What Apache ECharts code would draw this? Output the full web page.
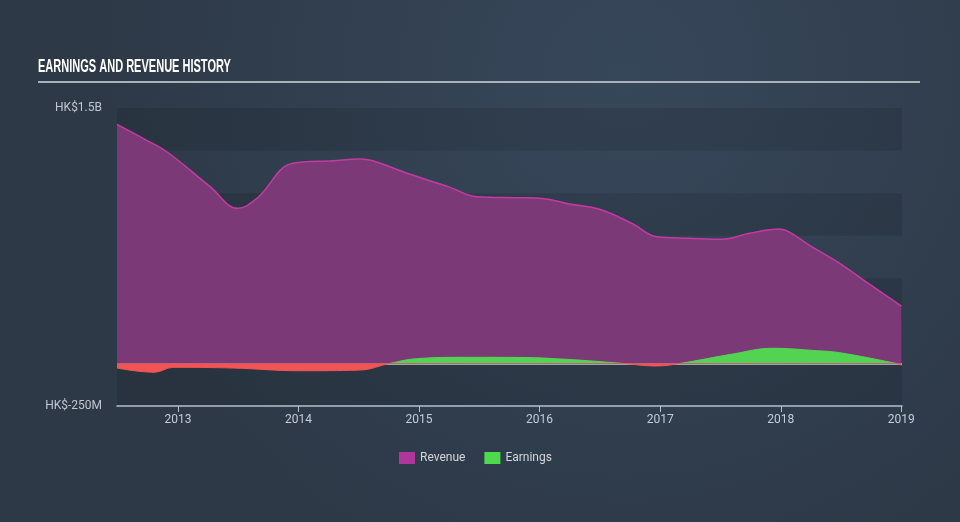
<!DOCTYPE html>
<html>
<head>
<meta charset="utf-8">
<script src="https://cdn.jsdelivr.net/npm/echarts@6/dist/echarts.min.js"></script>
<style>html,body{margin:0;padding:0;background:#334252;}#c{width:960px;height:522px;}</style>
</head>
<body>
<div id="c"></div>
<script>
// Values in millions HK$
const revenueDates = ['2012-06-30','2012-09-17','2012-11-28','2013-04-08','2013-07-01','2013-08-28','2013-12-15','2014-04-15','2014-07-05','2014-08-14','2014-12-03','2015-04-05','2015-06-25','2015-11-01','2016-01-10','2016-04-01','2016-07-01','2016-10-10','2016-12-20','2017-03-30','2017-07-08','2017-09-27','2017-12-28','2018-01-26','2018-03-28','2018-07-06','2018-10-04','2019-01-01'];
const revenueValues = [1404,1322,1243,1038,911,970,1175,1190,1200,1190,1112,1034,979,973,969,936,905,819,744,735,729,764,789,773,695,578,455,337];
const earningsDates = ['2012-06-30','2012-10-21','2012-12-17','2013-06-16','2014-01-05','2014-07-05','2014-10-04','2014-12-25','2015-05-26','2015-11-01','2016-03-24','2016-09-10','2016-12-20','2017-03-01','2017-08-08','2017-12-06','2018-04-19','2018-06-28','2018-12-16','2019-01-01'];
const earningsValues = [-27,-52,-23,-27,-43,-39,0,28,36,35,24,0,-15,0,55,89,75,63,0,-10];
const yMin = -250, yMax = 1500, yStep = 250;
const yTopLabel = 'HK$1.5B', yBottomLabel = 'HK$-250M';
const titleText = 'EARNINGS AND REVENUE HISTORY';

const revenueData = revenueDates.map((d,i)=>[d, revenueValues[i]]);
const earningsData = earningsDates.map((d,i)=>[d, earningsValues[i]]);
const YEAR = 365*24*3600*1000;

const chart = echarts.init(document.getElementById('c'));
chart.setOption({
  backgroundColor: {
    type: 'radial', x: 0.65, y: 0.15, r: 1.0,
    colorStops: [{offset:0, color:'#37475a'},{offset:1, color:'#2d3947'}]
  },
  animation: false,
  graphic: [
    {type:'text', left: 38, top: 57, scaleX: 0.58,
     style:{text: titleText, fill:'#ffffff', font:'bold 19px "Liberation Sans", Arial, sans-serif'}},
    {type:'line', shape:{x1:38, y1:82, x2:920, y2:82}, style:{stroke:'#a9b1b9', lineWidth:2}}
  ],
  grid: {left:117, right:58, top:108, bottom:116},
  legend: {
    left: 394, top: 447, itemWidth: 16, itemHeight: 12, itemGap: 19, icon: 'rect',
    textStyle: {color:'#d2d6da', fontSize: 12, fontFamily: 'Roboto'},
    data: [{name:'Revenue', itemStyle:{color:'#b0369c'}}, {name:'Earnings', itemStyle:{color:'#4ddb4d'}}]
  },
  visualMap: {
    type:'piecewise', show:false, seriesIndex:1, dimension:1,
    pieces:[{gt:-1000, lte:0, color:'#f05454'},{gt:0, lte:2000, color:'#52d452'}]
  },
  xAxis: {
    type:'time', min:'2012-06-30', max:'2019-01-03',
    minInterval: YEAR, maxInterval: YEAR + 2*24*3600*1000,
    axisLine:{show:true, onZero:false, lineStyle:{color:'#b4c0cc', width:1.5}},
    axisTick:{show:true, length:6, lineStyle:{color:'#b4c0cc'}},
    axisLabel:{color:'#c6ccd4', fontSize:12, fontFamily:'Roboto', formatter:'{yyyy}', margin:8},
    splitLine:{show:false}
  },
  yAxis: {
    type:'value', min:yMin, max:yMax, interval:yStep,
    axisLine:{show:false}, axisTick:{show:false}, splitLine:{show:false},
    splitArea:{show:true, areaStyle:{color:['rgba(0,0,0,0.1)','rgba(0,0,0,0)']}},
    axisLabel:{color:'#c0c6cc', fontSize:12, fontFamily:'Roboto', margin:15,
      formatter: v => v===yMax ? yTopLabel : (v===yMin ? yBottomLabel : '')}
  },
  series: [
    {name:'Revenue', type:'line', data:revenueData, smooth:0.4, showSymbol:false, symbol:'none',
     lineStyle:{color:'#c33aa2', width:1.5}, itemStyle:{color:'#b0369c'},
     areaStyle:{color:'#7b3a77', opacity:1}, z:2,
     markLine:{silent:true, symbol:'none', label:{show:false}, z:2,
       lineStyle:{color:'#c8c8c8', width:1.5, type:'solid'}, data:[{yAxis:0}]}},
    {name:'Earnings', type:'line', data:earningsData, smooth:0.4, showSymbol:false, symbol:'none',
     lineStyle:{width:1}, areaStyle:{opacity:1}, z:3}
  ]
});
</script>
</body>
</html>
